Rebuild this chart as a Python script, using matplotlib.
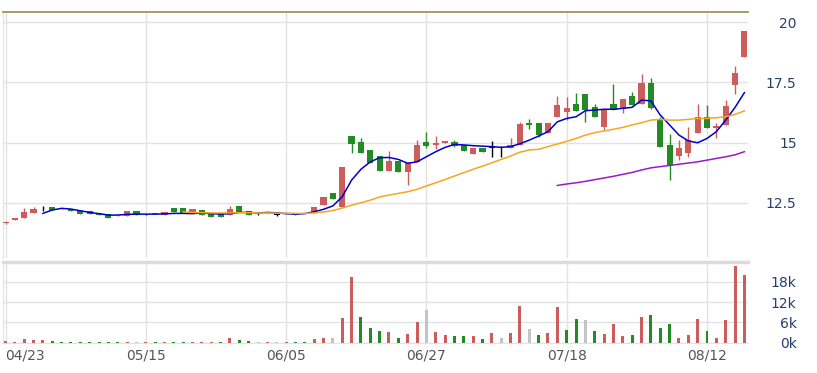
import numpy as np
import matplotlib
matplotlib.use("Agg")
import matplotlib.pyplot as plt

nan = np.nan

# x axis labels (trading-day index of each gridline)
tick_idx = [0, 15, 30, 45, 60, 75]
tick_labels = ["04/23", "05/15", "06/05", "06/27", "07/18", "08/12"]

price_ticks = [12.5, 15, 17.5, 20]
price_tick_labels = ["12.5", "15", "17.5", "20"]
vol_ticks = [0, 6000, 12000, 18000]
vol_tick_labels = ["0k", "6k", "12k", "18k"]

opens = [11.65, 11.80, 11.86, 12.06, 12.27, 12.34, 12.28, 12.26, 12.17, 12.15,
         12.09, 12.03, 11.98, 11.96, 12.16, 12.03, 12.07, 11.99, 12.27, 12.27,
         12.10, 12.20, 12.03, 12.08, 12.00, 12.37, 12.15, 12.03, 12.08, 12.00,
         12.04, 12.04, 12.05, 12.09, 12.42, 12.92, 12.31, 15.27, 15.03, 14.69,
         14.44, 13.83, 14.25, 13.79, 14.20, 15.03, 14.90, 14.99, 15.03, 14.90,
         14.52, 14.76, 14.78, 14.76, 14.76, 14.90, 15.80, 15.80, 15.41, 16.05,
         16.28, 16.58, 17.00, 16.46, 15.63, 16.58, 16.38, 16.93, 16.60, 17.46,
         15.93, 14.90, 14.44, 14.55, 15.38, 16.05, 15.60, 15.73, 17.39, 18.56]
closes = [11.72, 11.85, 12.10, 12.24, 12.27, 12.20, 12.25, 12.15, 12.02, 12.05,
          11.99, 11.87, 12.01, 12.16, 11.99, 12.03, 12.04, 12.13, 12.10, 12.08,
          12.23, 11.98, 11.90, 11.90, 12.25, 12.12, 11.98, 12.03, 12.12, 12.00,
          12.07, 12.00, 12.02, 12.31, 12.73, 12.67, 14.00, 14.94, 14.58, 14.14,
          13.83, 14.25, 13.79, 14.16, 14.90, 14.85, 14.99, 15.06, 14.85, 14.65,
          14.76, 14.62, 14.78, 14.76, 14.90, 15.75, 15.73, 15.31, 15.82, 16.56,
          16.42, 16.32, 16.35, 16.07, 16.38, 16.35, 16.79, 16.56, 17.46, 16.42,
          14.83, 14.07, 14.76, 15.10, 16.05, 15.59, 15.70, 16.51, 17.87, 19.64]
highs = [11.74, 11.85, 12.30, 12.32, 12.35, 12.34, 12.28, 12.26, 12.17, 12.15,
         12.09, 12.03, 12.03, 12.16, 12.16, 12.05, 12.07, 12.13, 12.27, 12.27,
         12.26, 12.20, 12.03, 12.08, 12.35, 12.37, 12.15, 12.06, 12.12, 12.03,
         12.07, 12.04, 12.05, 12.31, 12.73, 12.92, 14.00, 15.27, 15.20, 14.69,
         14.44, 14.66, 14.25, 14.19, 15.10, 15.45, 15.27, 15.06, 15.10, 14.90,
         14.76, 14.76, 15.06, 14.85, 15.17, 15.86, 15.96, 15.80, 15.82, 16.93,
         16.88, 17.07, 17.00, 16.60, 16.38, 17.43, 16.79, 17.10, 17.84, 17.66,
         16.05, 15.35, 15.10, 15.66, 16.60, 16.55, 15.80, 16.78, 18.18, 19.64]
lows = [11.63, 11.80, 11.85, 12.06, 12.17, 12.20, 12.25, 12.15, 12.02, 12.05,
        11.99, 11.87, 11.96, 11.96, 11.99, 12.01, 12.04, 11.99, 12.10, 12.08,
        12.10, 11.98, 11.90, 11.90, 12.00, 12.12, 11.98, 11.99, 12.08, 11.96,
        12.04, 12.00, 12.02, 12.09, 12.42, 12.67, 12.31, 14.58, 14.55, 14.14,
        13.83, 13.83, 13.79, 13.24, 14.20, 14.78, 14.75, 14.99, 14.82, 14.65,
        14.52, 14.62, 14.41, 14.41, 14.76, 14.90, 15.55, 15.25, 15.41, 16.05,
        15.95, 16.32, 15.86, 16.07, 15.50, 16.35, 16.24, 16.56, 16.60, 16.38,
        14.83, 13.44, 14.27, 14.40, 15.38, 15.59, 15.20, 15.73, 17.00, 18.56]

volume = [300, 250, 1000, 700, 700, 300, 200, 100, 200, 100,
          100, 100, 200, 100, 200, 200, 100, 200, 200, 200,
          200, 200, 200, 200, 1300, 800, 300, 100, 100, 100,
          100, 100, 100, 1100, 1400, 1400, 7400, 19400, 7700, 4400,
          3300, 3000, 1400, 2600, 6200, 9700, 3000, 2200, 1800, 1800,
          1800, 1100, 2900, 1400, 2900, 10800, 4100, 2100, 2900, 10400,
          3700, 6900, 6700, 3400, 2600, 5600, 1900, 2200, 7700, 8100,
          4400, 5600, 1400, 2200, 6900, 3400, 1400, 6600, 22800, 20100]
# r = up, g = down, n = flat
vol_dir = ("rrrrrggggg" "gggrnrgrgg" "rrrgrggnrn" "rggrrnrrgg"
           "grgrrnrrgg" "rgrnrrngrr" "ggngrrrgrg" "ggrrrgrrrr")

ma5 = [nan, nan, nan, nan, 12.06, 12.20, 12.27, 12.24, 12.17, 12.10,
       12.05, 11.99, 11.99, 12.02, 12.03, 12.03, 12.03, 12.04, 12.06, 12.06,
       12.05, 12.08, 12.05, 12.03, 12.05, 12.10, 12.10, 12.08, 12.10, 12.08,
       12.05, 12.03, 12.05, 12.13, 12.23, 12.37, 12.75, 13.44, 13.89, 14.20,
       14.37, 14.38, 14.30, 14.14, 14.20, 14.41, 14.62, 14.80, 14.92, 14.90,
       14.87, 14.85, 14.83, 14.80, 14.83, 14.95, 15.10, 15.27, 15.45, 15.86,
       16.00, 16.07, 16.32, 16.35, 16.38, 16.38, 16.42, 16.46, 16.76, 16.73,
       16.14, 15.73, 15.31, 15.07, 14.99, 15.17, 15.45, 15.93, 16.46, 17.07]
ma20 = [nan, nan, nan, nan, nan, nan, nan, nan, nan, nan,
        nan, nan, nan, nan, nan, nan, nan, nan, nan, 12.12,
        12.10, 12.09, 12.08, 12.08, 12.08, 12.09, 12.09, 12.08, 12.08, 12.07,
        12.07, 12.06, 12.06, 12.08, 12.12, 12.18, 12.28, 12.40, 12.50, 12.61,
        12.74, 12.82, 12.89, 12.96, 13.06, 13.20, 13.33, 13.47, 13.61, 13.75,
        13.89, 14.02, 14.16, 14.30, 14.44, 14.60, 14.69, 14.72, 14.83, 14.94,
        15.05, 15.17, 15.31, 15.41, 15.48, 15.55, 15.63, 15.73, 15.82, 15.93,
        15.96, 15.93, 15.93, 15.96, 16.00, 16.00, 16.03, 16.07, 16.17, 16.31]
ma60 = [nan] * 59 + [13.22,
        13.28, 13.33, 13.39, 13.46, 13.53, 13.60, 13.68, 13.76, 13.86, 13.95,
        14.00, 14.05, 14.10, 14.15, 14.20, 14.27, 14.34, 14.41, 14.49, 14.62]

UP = "#cd5c5c"
DOWN = "#238b23"
FLAT = "#c4c4c4"
GRID = "#e3e3e3"
LABEL = "#263f6a"

x = np.arange(len(closes))
o = np.array(opens)
c = np.array(closes)

W, H = 817, 373
fig = plt.figure(figsize=(W / 100, H / 100), dpi=100)
left = 3 / W
width = 748 / W - left
ax1 = fig.add_axes([left, 1 - 258 / H, width, (258 - 12) / H])
ax2 = fig.add_axes([left, 1 - 342.5 / H, width, (342.5 - 262) / H])

x0, step = 5.5, (707 - 5.5) / 75
xlim = (-(x0 - 3) / step, (748 - x0) / step)

# candles
cols = np.where(c > o, UP, np.where(c < o, DOWN, "black"))
ax1.vlines(x, lows, highs, colors=cols, lw=1, zorder=3)
body = np.abs(c - o)
ax1.bar(x, np.where(body == 0, 0.02, body), bottom=np.minimum(o, c),
        width=0.66, color=cols, zorder=4, linewidth=0)

ax1.plot(x, ma5, color="#0000cc", lw=1.1, zorder=5)
ax1.plot(x, ma20, color="#f5a623", lw=1.1, zorder=5)
ax1.plot(x, ma60, color="#9b19c8", lw=1.1, zorder=5)

ax1.set_ylim(10.21, 20.415)
ax1.set_yticks(price_ticks)
ax1.set_yticklabels(price_tick_labels)

# volume bars
vcol = [{"r": UP, "g": DOWN, "n": FLAT}[d] for d in vol_dir]
ax2.bar(x, volume, width=0.32, color=vcol, linewidth=0, zorder=3)
ax2.set_ylim(0, 23900)
ax2.set_yticks(vol_ticks)
ax2.set_yticklabels(vol_tick_labels)

for ax in (ax1, ax2):
    ax.set_xlim(*xlim)
    ax.set_xticks(tick_idx)
    ax.yaxis.tick_right()
    ax.tick_params(axis="y", length=0, pad=35, labelsize=10, labelcolor=LABEL)
    for lbl in ax.get_yticklabels():
        lbl.set_horizontalalignment("right")
    ax.grid(True, color=GRID, lw=1, zorder=0)
    ax.set_axisbelow(True)
    for s in ("right", "bottom"):
        ax.spines[s].set_visible(False)
    ax.spines["left"].set_color(GRID)

ax1.tick_params(axis="x", length=0, labelbottom=False)
ax1.spines["top"].set_color("#a89a72")
ax1.spines["top"].set_linewidth(1.4)

ax2.spines["top"].set_color("#dcdcdc")
ax2.spines["top"].set_linewidth(2.5)
ax2.spines["bottom"].set_visible(True)
ax2.spines["bottom"].set_color(GRID)
ax2.set_xticklabels(tick_labels)
ax2.tick_params(axis="x", length=0, pad=4, labelsize=10, labelcolor="#555555")
ax2.get_xticklabels()[0].set_horizontalalignment("left")

fig.savefig("out.png", dpi=100)
